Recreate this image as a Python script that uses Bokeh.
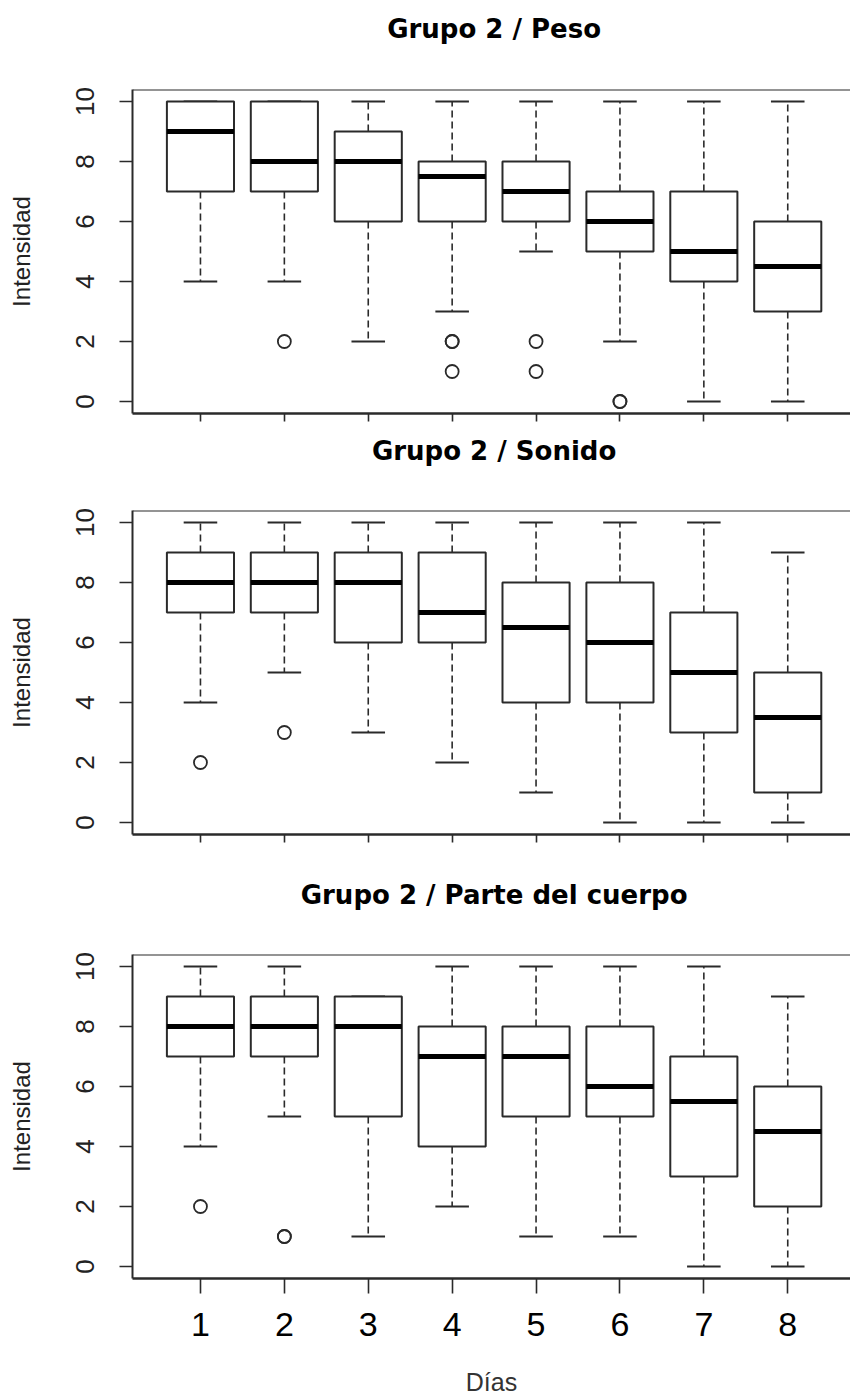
from bokeh.plotting import figure
from bokeh.models import FixedTicker, Span, Range1d
from bokeh.core.properties import value
from bokeh.layouts import column
from bokeh.embed import file_html
from bokeh.resources import INLINE

days = [1, 2, 3, 4, 5, 6, 7, 8]
day_labels = ["1", "2", "3", "4", "5", "6", "7", "8"]
y_ticks = [0, 2, 4, 6, 8, 10]

# Grupo 2 / Peso
peso_min = [4, 4, 2, 3, 5, 2, 0, 0]
peso_q1 = [7, 7, 6, 6, 6, 5, 4, 3]
peso_med = [9, 8, 8, 7.5, 7, 6, 5, 4.5]
peso_q3 = [10, 10, 9, 8, 8, 7, 7, 6]
peso_max = [10, 10, 10, 10, 10, 10, 10, 10]
peso_out_day = [2, 4, 4, 4, 5, 5, 6, 6]
peso_out_val = [2, 2, 2, 1, 2, 1, 0, 0]

# Grupo 2 / Sonido
sonido_min = [4, 5, 3, 2, 1, 0, 0, 0]
sonido_q1 = [7, 7, 6, 6, 4, 4, 3, 1]
sonido_med = [8, 8, 8, 7, 6.5, 6, 5, 3.5]
sonido_q3 = [9, 9, 9, 9, 8, 8, 7, 5]
sonido_max = [10, 10, 10, 10, 10, 10, 10, 9]
sonido_out_day = [1, 2]
sonido_out_val = [2, 3]

# Grupo 2 / Parte del cuerpo
cuerpo_min = [4, 5, 1, 2, 1, 1, 0, 0]
cuerpo_q1 = [7, 7, 5, 4, 5, 5, 3, 2]
cuerpo_med = [8, 8, 8, 7, 7, 6, 5.5, 4.5]
cuerpo_q3 = [9, 9, 9, 8, 8, 8, 7, 6]
cuerpo_max = [10, 10, 9, 10, 10, 10, 10, 9]
cuerpo_out_day = [1, 2, 2]
cuerpo_out_val = [2, 1, 1]

BOX_W = 0.8
STAPLE_W = 0.4
LINE_C = "#2a2a2a"
TEXT_C = "#222222"
X_START, X_END = 0.19, 8.748
TITLE_X = (days[0] + days[-1]) / 2


def title_fig(text, height, baseline):
    t = figure(frame_width=718, height=height, min_border=0,
               min_border_left=132,
               x_range=Range1d(X_START, X_END), y_range=Range1d(height, 0),
               output_backend="svg", toolbar_location=None)
    t.axis.visible = False
    t.grid.visible = False
    t.outline_line_color = None
    t.text(x=[TITLE_X], y=[baseline], text=[text], text_align="center",
           text_baseline="alphabetic", text_font=value("DejaVu Sans"),
           text_font_style="bold", text_font_size="26px", text_color="black")
    return t


def panel(mins, q1s, meds, q3s, maxs, out_d, out_v,
          top_border, bottom_border, tick_len, show_labels):
    p = figure(frame_width=718, frame_height=324,
               min_border_left=132, min_border_right=0,
               min_border_top=top_border, min_border_bottom=bottom_border,
               x_range=Range1d(X_START, X_END), y_range=Range1d(-0.4, 10.4),
               output_backend="svg", toolbar_location=None)
    p.grid.visible = False
    p.outline_line_color = None
    p.background_fill_color = "white"
    p.border_fill_color = "white"

    # whiskers
    p.segment(x0=days, y0=q3s, x1=days, y1=maxs, line_color=LINE_C,
              line_width=1.6, line_dash="7 4")
    p.segment(x0=days, y0=q1s, x1=days, y1=mins, line_color=LINE_C,
              line_width=1.6, line_dash="7 4")
    # staples
    lx = [d - STAPLE_W / 2 for d in days]
    rx = [d + STAPLE_W / 2 for d in days]
    p.segment(x0=lx, y0=maxs, x1=rx, y1=maxs, line_color=LINE_C, line_width=1.8)
    p.segment(x0=lx, y0=mins, x1=rx, y1=mins, line_color=LINE_C, line_width=1.8)
    # boxes
    p.vbar(x=days, width=BOX_W, bottom=q1s, top=q3s, fill_color="white",
           line_color=LINE_C, line_width=2)
    # medians
    bl = [d - BOX_W / 2 for d in days]
    br = [d + BOX_W / 2 for d in days]
    p.segment(x0=bl, y0=meds, x1=br, y1=meds, line_color="black",
              line_width=5, line_cap="butt")
    # outliers
    p.scatter(x=out_d, y=out_v, marker="circle", size=13, fill_color=None,
              line_color=LINE_C, line_width=1.8)

    # frame top
    p.add_layout(Span(location=10.4, dimension="width", line_color=LINE_C,
                      line_width=2))

    # y axis
    ya = p.yaxis[0]
    ya.ticker = FixedTicker(ticks=y_ticks)
    ya.major_tick_out = 13
    ya.major_tick_in = 0
    ya.minor_tick_out = 0
    ya.minor_tick_in = 0
    ya.major_tick_line_color = LINE_C
    ya.major_tick_line_width = 1.6
    ya.axis_line_color = LINE_C
    ya.axis_line_width = 2
    ya.major_label_orientation = "vertical"
    ya.major_label_text_font = "Liberation Sans"
    ya.major_label_text_font_size = "26px"
    ya.major_label_text_color = TEXT_C
    ya.major_label_standoff = 26
    ya.axis_label = "Intensidad"
    ya.axis_label_text_font = "Liberation Sans"
    ya.axis_label_text_font_style = "normal"
    ya.axis_label_text_font_size = "24px"
    ya.axis_label_text_color = TEXT_C
    ya.axis_label_standoff = 38

    # x axis
    xa = p.xaxis[0]
    xa.ticker = FixedTicker(ticks=days)
    xa.major_tick_out = tick_len
    xa.major_tick_in = 0
    xa.minor_tick_out = 0
    xa.minor_tick_in = 0
    xa.major_tick_line_color = LINE_C
    xa.major_tick_line_width = 1.6
    xa.axis_line_color = LINE_C
    xa.axis_line_width = 2.4
    if show_labels:
        xa.major_label_overrides = {d: l for d, l in zip(days, day_labels)}
        xa.major_label_text_font = "Liberation Sans"
        xa.major_label_text_font_size = "34px"
        xa.major_label_text_color = "black"
        xa.major_label_standoff = 19
        xa.axis_label = "Días"
        xa.axis_label_text_font = "Liberation Sans"
        xa.axis_label_text_font_style = "normal"
        xa.axis_label_text_font_size = "25px"
        xa.axis_label_text_color = "#333333"
        xa.axis_label_standoff = 29
    else:
        xa.major_label_overrides = {d: " " for d in days}
        xa.major_label_text_font_size = "1px"
        xa.major_label_standoff = 0
    return p


t1 = title_fig("Grupo 2 / Peso", 60, 28)
p1 = panel(peso_min, peso_q1, peso_med, peso_q3, peso_max,
           peso_out_day, peso_out_val, 29, 17, 8, False)
t2 = title_fig("Grupo 2 / Sonido", 50, 20)
p2 = panel(sonido_min, sonido_q1, sonido_med, sonido_q3, sonido_max,
           sonido_out_day, sonido_out_val, 30, 36, 8, False)
t3 = title_fig("Grupo 2 / Parte del cuerpo", 50, 24)
p3 = panel(cuerpo_min, cuerpo_q1, cuerpo_med, cuerpo_q3, cuerpo_max,
           cuerpo_out_day, cuerpo_out_val, 34, 119, 15, True)

layout = column(t1, p1, t2, p2, t3, p3, spacing=0)
open("out.html", "w").write(file_html(layout, INLINE))
